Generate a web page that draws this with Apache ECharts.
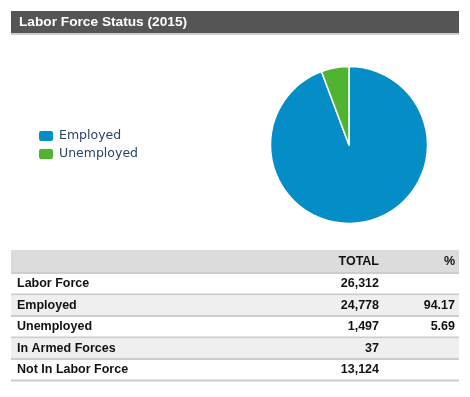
<!DOCTYPE html>
<html>
<head>
<meta charset="utf-8">
<script src="https://cdn.jsdelivr.net/npm/echarts@6/dist/echarts.min.js"></script>
<style>
    html, body { margin: 0; padding: 0; background: #fff; }
    #chart { width: 470px; height: 397px; }
</style>
</head>
<body>
<div id="chart"></div>
<script>
// pie data
const pieNames = ['Employed', 'Unemployed']
const pieValues = [24778, 1497]
const pieColors = ['#058DC7', '#50B432']

// table data
const rowLabels = ['Labor Force', 'Employed', 'Unemployed', 'In Armed Forces', 'Not In Labor Force']
const rowTotals = [26312, 24778, 1497, 37, 13124]
const rowPercents = [null, 94.17, 5.69, null, null]

const chart = echarts.init(document.getElementById('chart'))

const tableFont = 'bold 12.5px "Liberation Sans", Arial, sans-serif'
const lineColor = '#d0ccc8'
const graphic = []

// title bar
graphic.push({ type: 'rect', shape: { x: 11, y: 11, width: 448, height: 22 }, style: { fill: '#555555' } })
graphic.push({ type: 'rect', shape: { x: 11, y: 33, width: 448, height: 2 }, style: { fill: lineColor } })
graphic.push({
    type: 'text', x: 19, y: 22,
    style: { text: 'Labor Force Status (2015)', font: 'bold 13.7px "Liberation Sans", Arial, sans-serif', fill: '#fff', verticalAlign: 'middle' }
})

// table header
graphic.push({ type: 'rect', shape: { x: 11, y: 250, width: 448, height: 22 }, style: { fill: '#dcdcdc' } })
graphic.push({ type: 'rect', shape: { x: 11, y: 272, width: 448, height: 2 }, style: { fill: lineColor } })
graphic.push({ type: 'text', x: 379, y: 261.5, style: { text: 'TOTAL', font: tableFont, fill: '#111', align: 'right', verticalAlign: 'middle' } })
graphic.push({ type: 'text', x: 455, y: 261.5, style: { text: '%', font: tableFont, fill: '#111', align: 'right', verticalAlign: 'middle' } })

// table rows
rowLabels.forEach((label, i) => {
    const top = 274 + 21.5 * i
    const h = 19.5
    const mid = top + h / 2
    graphic.push({ type: 'rect', shape: { x: 11, y: top, width: 448, height: h }, style: { fill: i % 2 ? '#efefef' : '#ffffff' } })
    graphic.push({ type: 'rect', shape: { x: 11, y: top + h, width: 448, height: 2 }, style: { fill: lineColor } })
    graphic.push({ type: 'text', x: 17, y: mid, style: { text: label, font: tableFont, fill: '#111', verticalAlign: 'middle' } })
    graphic.push({ type: 'text', x: 379, y: mid, style: { text: rowTotals[i].toLocaleString('en-US'), font: tableFont, fill: '#111', align: 'right', verticalAlign: 'middle' } })
    if (rowPercents[i] !== null) {
        graphic.push({ type: 'text', x: 455, y: mid, style: { text: rowPercents[i].toFixed(2), font: tableFont, fill: '#111', align: 'right', verticalAlign: 'middle' } })
    }
})

const option = {
    backgroundColor: '#fff',
    animation: false,
    color: pieColors,
    legend: {
        orient: 'vertical',
        left: 37,
        top: 128,
        padding: 0,
        itemWidth: 16,
        itemHeight: 12,
        itemGap: 2,
        icon: 'roundRect',
        data: pieNames,
        textStyle: {
            fontFamily: '"DejaVu Sans", Verdana, sans-serif',
            fontSize: 12.5,
            lineHeight: 16,
            color: '#2a4466',
            padding: [0, 0, 0, 0]
        }
    },
    graphic: graphic,
    series: [
        {
            name: 'Labor Force',
            type: 'pie',
            center: [349, 145],
            radius: 78.5,
            startAngle: 90,
            clockwise: true,
            label: { show: false },
            labelLine: { show: false },
            emphasis: { scale: false },
            itemStyle: { borderColor: '#fff', borderWidth: 1.5 },
            data: pieNames.map((name, i) => ({ name: name, value: pieValues[i] }))
        }
    ]
}

chart.setOption(option)
</script>
</body>
</html>
